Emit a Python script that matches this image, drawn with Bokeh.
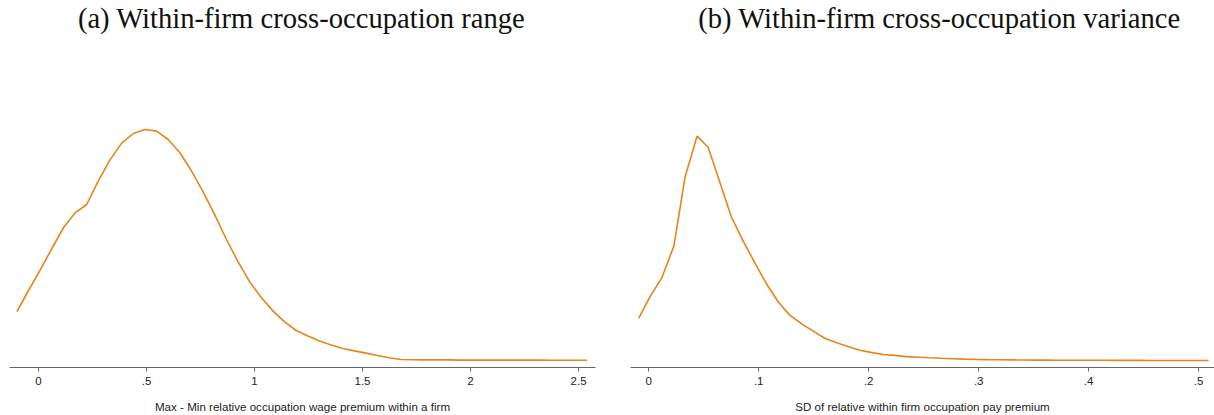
from bokeh.plotting import figure
from bokeh.layouts import row
from bokeh.models import Range1d, FixedTicker, Label
from bokeh.embed import file_html
from bokeh.resources import INLINE

# ---------------- data ----------------
titles = ["(a) Within-firm cross-occupation range",
          "(b) Within-firm cross-occupation variance"]
xlabels = ["Max - Min relative occupation wage premium within a firm",
           "SD of relative within firm occupation pay premium"]

range_x = [-0.100, -0.046, 0.008, 0.062, 0.116, 0.169, 0.223, 0.277, 0.331, 0.385,
           0.439, 0.493, 0.547, 0.600, 0.654, 0.708, 0.762, 0.816, 0.870, 0.924,
           0.978, 1.031, 1.085, 1.139, 1.193, 1.247, 1.301, 1.355, 1.409, 1.463,
           1.516, 1.570, 1.624, 1.678, 1.732, 1.786, 1.840, 1.894, 1.947, 2.001,
           2.055, 2.109, 2.163, 2.217, 2.271, 2.325, 2.378, 2.432, 2.486, 2.540]
range_density = [0.244, 0.349, 0.452, 0.559, 0.664, 0.737, 0.779, 0.897, 1.002, 1.086,
                 1.134, 1.154, 1.146, 1.104, 1.039, 0.947, 0.842, 0.727, 0.604, 0.492,
                 0.392, 0.314, 0.247, 0.192, 0.149, 0.122, 0.097, 0.077, 0.059, 0.047,
                 0.036, 0.024, 0.013, 0.004, 0.003, 0.002, 0.002, 0.002, 0.001, 0.001,
                 0.001, 0.001, 0.001, 0.001, 0.001, 0.001, 0.000, 0.000, 0.000, 0.000]

sd_x = [-0.009, 0.001, 0.012, 0.023, 0.033, 0.044, 0.054, 0.065, 0.075, 0.086,
        0.097, 0.107, 0.118, 0.128, 0.139, 0.150, 0.160, 0.171, 0.181, 0.192,
        0.202, 0.213, 0.224, 0.234, 0.245, 0.255, 0.266, 0.277, 0.287, 0.298,
        0.308, 0.319, 0.330, 0.340, 0.351, 0.361, 0.372, 0.382, 0.393, 0.404,
        0.414, 0.425, 0.435, 0.446, 0.457, 0.467, 0.478, 0.488, 0.499, 0.509]
sd_density = [1.42, 2.12, 2.77, 3.84, 6.12, 7.49, 7.12, 5.92, 4.81, 3.98,
              3.23, 2.57, 1.95, 1.53, 1.23, 0.98, 0.75, 0.60, 0.48, 0.35,
              0.28, 0.21, 0.18, 0.14, 0.12, 0.10, 0.083, 0.070, 0.057, 0.047,
              0.040, 0.033, 0.030, 0.027, 0.023, 0.022, 0.020, 0.019, 0.018, 0.017,
              0.016, 0.015, 0.014, 0.013, 0.012, 0.012, 0.011, 0.011, 0.010, 0.010]

ticks_a = [0, 0.5, 1, 1.5, 2, 2.5]
tick_labels_a = ["0", ".5", "1", "1.5", "2", "2.5"]
ticks_b = [0, 0.1, 0.2, 0.3, 0.4, 0.5]
tick_labels_b = ["0", ".1", ".2", ".3", ".4", ".5"]

LINE = "#E6851A"
AXIS = "#666666"
TXT = "#222222"


def panel(x, y, xr, yr, ticks, labels, title, xlabel, bl, br, title_x, title_y):
    p = figure(width=607, height=415, output_backend="svg", toolbar_location=None,
               x_range=Range1d(*xr), y_range=Range1d(*yr),
               min_border_left=bl, min_border_right=br,
               min_border_top=0, min_border_bottom=48)
    p.outline_line_color = None
    p.xgrid.visible = False
    p.ygrid.visible = False
    p.yaxis.visible = False
    p.background_fill_color = "white"
    p.border_fill_color = "white"
    p.line(x, y, line_color=LINE, line_width=1.6)
    ax = p.xaxis[0]
    ax.ticker = FixedTicker(ticks=ticks)
    ax.major_label_overrides = {t: l for t, l in zip(ticks, labels)}
    ax.axis_line_color = AXIS
    ax.major_tick_line_color = AXIS
    ax.minor_tick_line_color = None
    ax.major_tick_in = 0
    ax.major_tick_out = 4
    ax.major_label_standoff = 5
    ax.major_label_text_font = "Liberation Sans"
    ax.major_label_text_font_size = "11.5px"
    ax.major_label_text_color = TXT
    ax.axis_label = xlabel
    ax.axis_label_text_font = "Liberation Sans"
    ax.axis_label_text_font_size = "11.6px"
    ax.axis_label_text_font_style = "normal"
    ax.axis_label_text_color = TXT
    ax.axis_label_standoff = 12
    p.add_layout(Label(x=title_x, y=title_y, text=title, text_align="center",
                       text_baseline="alphabetic", text_font="Liberation Serif",
                       text_font_size="28.6px", text_color="#111111"))
    return p


pa = panel(range_x, range_density, (-0.1343, 2.5785), (-0.036, 1.799),
           ticks_a, tick_labels_a, titles[0], xlabels[0], 9, 12, 1.218, 1.709)
pb = panel(sd_x, sd_density, (-0.01655, 0.5144), (-0.2233, 12.01),
           ticks_b, tick_labels_b, titles[1], xlabels[1], 23, 0, 0.2643, 11.41)

layout = row(pa, pb)
open("out.html", "w").write(file_html(layout, INLINE))
